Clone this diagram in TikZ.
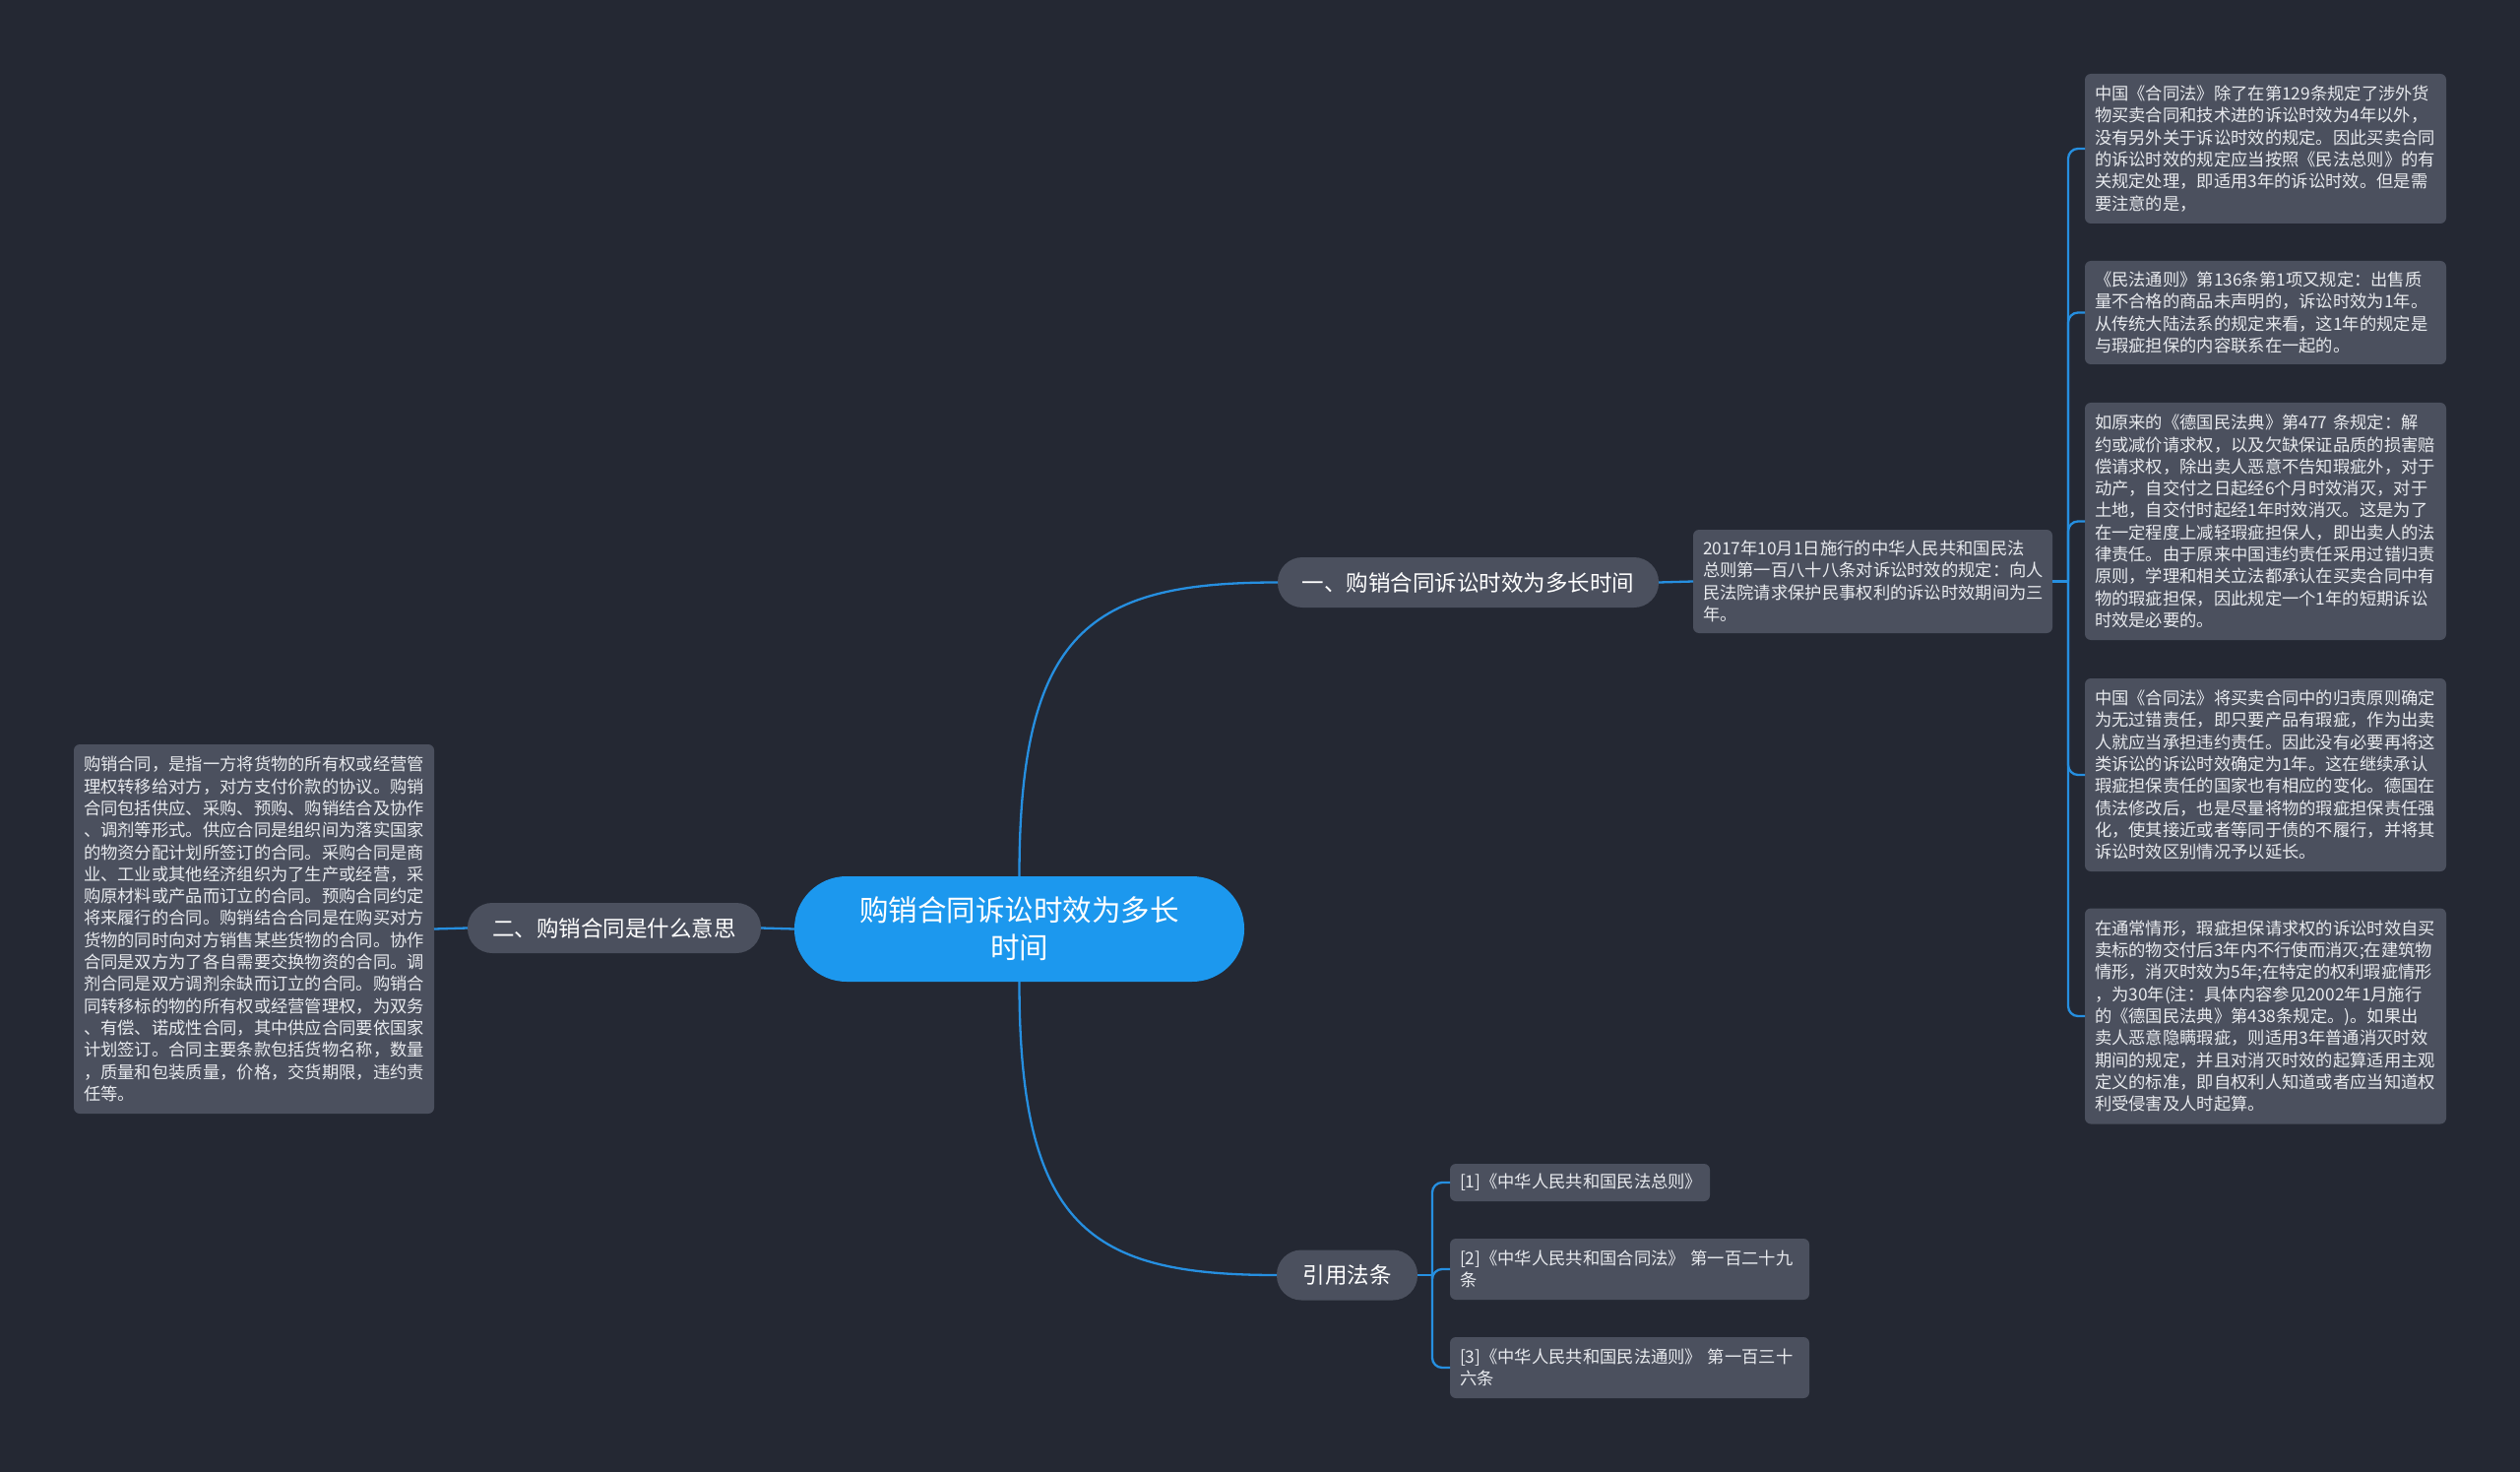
\documentclass[tikz,border=0pt]{standalone}
\usepackage{fontspec}
\setmainfont{Noto Sans CJK SC}
\usetikzlibrary{calc}
\definecolor{bgc}{RGB}{36,40,51}
\definecolor{boxc}{RGB}{75,80,94}
\definecolor{linec}{RGB}{38,143,224}
\definecolor{rootc}{RGB}{28,152,238}
\definecolor{txtc}{RGB}{232,234,238}
\begin{document}
\begin{tikzpicture}[x=1pt,y=-1pt,
 every node/.style={inner sep=0pt, outer sep=0pt},
 rootbox/.style={fill=rootc, draw=none, rounded corners=53pt, minimum width=457pt, minimum height=107pt, align=center, text=white, font=\fontsize{29.5}{38}\selectfont},
 topicbox/.style={fill=boxc, rounded corners=25pt, minimum height=51pt, text=white, font=\fontsize{22.5}{27}\selectfont},
 notebox/.style={fill=boxc, rounded corners=6pt, inner xsep=10pt, align=left, text=txtc, text width=347pt, font=\fontsize{17.3}{22.3}\selectfont},
 conn/.style={draw=linec, line width=2.3pt},
]
\useasboundingbox (0,0) rectangle (2560,1495);
\fill[bgc] (0,0) rectangle (2560,1495);

\node[rootbox] (root) at (1035.5,943.5) {购销合同诉讼时效为多长\\时间};
\node[topicbox, minimum width=387pt] (b1) at (1491.5,591.5) {一、购销合同诉讼时效为多长时间};
\node[topicbox, minimum width=298pt] (b2) at (624,942.5) {二、购销合同是什么意思};
\node[topicbox, minimum width=143pt] (b3) at (1368.5,1295) {引用法条};

\node[notebox, text width=345pt, minimum height=105pt] (t1) at (1902.5,590.5) {2017年10月1日施行的中华人民共和国民法\\
总则第一百八十八条对诉讼时效的规定：向人\\
民法院请求保护民事权利的诉讼时效期间为三\\
年。};

\node[notebox, minimum height=152pt] (r1) at (2301.5,151) {中国《合同法》除了在第129条规定了涉外货\\
物买卖合同和技术进的诉讼时效为4年以外，\\
没有另外关于诉讼时效的规定。因此买卖合同\\
的诉讼时效的规定应当按照《民法总则》的有\\
关规定处理，即适用3年的诉讼时效。但是需\\
要注意的是，};

\node[notebox, minimum height=105pt] (r2) at (2301.5,317.5) {《民法通则》第136条第1项又规定：出售质\\
量不合格的商品未声明的，诉讼时效为1年。\\
从传统大陆法系的规定来看，这1年的规定是\\
与瑕疵担保的内容联系在一起的。};

\node[notebox, minimum height=241pt] (r3) at (2301.5,529.5) {如原来的《德国民法典》第477 条规定：解\\
约或减价请求权，以及欠缺保证品质的损害赔\\
偿请求权，除出卖人恶意不告知瑕疵外，对于\\
动产，自交付之日起经6个月时效消灭，对于\\
土地，自交付时起经1年时效消灭。这是为了\\
在一定程度上减轻瑕疵担保人，即出卖人的法\\
律责任。由于原来中国违约责任采用过错归责\\
原则，学理和相关立法都承认在买卖合同中有\\
物的瑕疵担保，因此规定一个1年的短期诉讼\\
时效是必要的。};

\node[notebox, minimum height=196pt] (r4) at (2301.5,787) {中国《合同法》将买卖合同中的归责原则确定\\
为无过错责任，即只要产品有瑕疵，作为出卖\\
人就应当承担违约责任。因此没有必要再将这\\
类诉讼的诉讼时效确定为1年。这在继续承认\\
瑕疵担保责任的国家也有相应的变化。德国在\\
债法修改后，也是尽量将物的瑕疵担保责任强\\
化，使其接近或者等同于债的不履行，并将其\\
诉讼时效区别情况予以延长。};

\node[notebox, minimum height=219pt] (r5) at (2301.5,1032) {在通常情形，瑕疵担保请求权的诉讼时效自买\\
卖标的物交付后3年内不行使而消灭;在建筑物\\
情形，消灭时效为5年;在特定的权利瑕疵情形\\
，为30年(注：具体内容参见2002年1月施行\\
的《德国民法典》第438条规定。)。如果出\\
卖人恶意隐瞒瑕疵，则适用3年普通消灭时效\\
期间的规定，并且对消灭时效的起算适用主观\\
定义的标准，即自权利人知道或者应当知道权\\
利受侵害及人时起算。};

\node[notebox, text width=346pt, minimum height=375pt] (l1) at (258,943.5) {购销合同，是指一方将货物的所有权或经营管\\
理权转移给对方，对方支付价款的协议。购销\\
合同包括供应、采购、预购、购销结合及协作\\
、调剂等形式。供应合同是组织间为落实国家\\
的物资分配计划所签订的合同。采购合同是商\\
业、工业或其他经济组织为了生产或经营，采\\
购原材料或产品而订立的合同。预购合同约定\\
将来履行的合同。购销结合合同是在购买对方\\
货物的同时向对方销售某些货物的合同。协作\\
合同是双方为了各自需要交换物资的合同。调\\
剂合同是双方调剂余缺而订立的合同。购销合\\
同转移标的物的所有权或经营管理权，为双务\\
、有偿、诺成性合同，其中供应合同要依国家\\
计划签订。合同主要条款包括货物名称，数量\\
，质量和包装质量，价格，交货期限，违约责\\
任等。};

\node[notebox, text width=244pt, minimum height=38pt] (f1) at (1605,1201) {[1]《中华人民共和国民法总则》};
\node[notebox, text width=345pt, minimum height=62pt] (f2) at (1655.5,1289) {[2]《中华人民共和国合同法》 第一百二十九\\
条};
\node[notebox, text width=345pt, minimum height=62pt] (f3) at (1655.5,1389) {[3]《中华人民共和国民法通则》 第一百三十\\
六条};

\coordinate (rb1) at (2101,590.5);
\coordinate (rb2) at (1455,1295);

\draw[conn] (root.north) .. controls ($(root.north)+(0,-250)$) and ($(b1.west)+(-190,0)$) .. (b1.west);
\draw[conn] (root.south) .. controls ($(root.south)+(0,250)$) and ($(b3.west)+(-190,0)$) .. (b3.west);
\draw[conn] (root.west) -- (b2.east);
\draw[conn] (b2.west) -- (l1.east);
\draw[conn] (b1.east) -- (t1.west);
\draw[conn] (t1.east) -- (rb1);
\foreach \n in {r1,r2,r3,r4,r5} \draw[conn, rounded corners=10pt] (rb1) |- (\n.west);
\draw[conn] (b3.east) -- (rb2);
\foreach \n in {f1,f2,f3} \draw[conn, rounded corners=10pt] (rb2) |- (\n.west);
\end{tikzpicture}
\end{document}
